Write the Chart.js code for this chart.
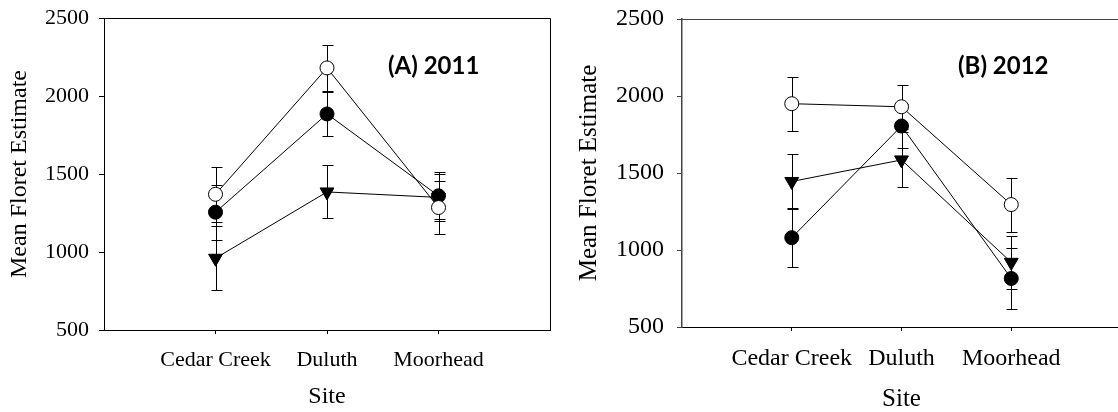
<!DOCTYPE html>
<html>
<head>
<meta charset="utf-8">
<script src="https://cdn.jsdelivr.net/npm/chart.js@4.4.1/dist/chart.umd.min.js"></script>
<style>
  html, body { margin: 0; padding: 0; background: #fff; overflow: hidden; }
  .panel { position: absolute; top: 0; height: 412px; }
  #panelA { left: 0; width: 560px; }
  #panelB { left: 560px; width: 570px; }
</style>
</head>
<body>
<div class="panel" id="panelA"><canvas id="chartA"></canvas></div>
<div class="panel" id="panelB"><canvas id="chartB"></canvas></div>
<script>
/* ---------- DATA ---------- */
const SITES = ["Cedar Creek", "Duluth", "Moorhead"];
const Y_TICKS = [500, 1000, 1500, 2000, 2500];

// (A) 2011
const open2011 = [1370, 2180, 1285];
const openErr2011 = [175, 145, 170];
const filled2011 = [1255, 1885, 1360];
const filledErr2011 = [175, 140, 150];
const tri2011 = [960, 1385, 1350];
const triErr2011 = [205, 170, 150];

// (B) 2012
const open2012 = [1950, 1930, 1295];
const openErr2012 = [175, 142, 175];
const filled2012 = [1080, 1805, 815];
const filledErr2012 = [190, 140, 200];
const tri2012 = [1445, 1585, 920];
const triErr2012 = [180, 178, 170];

const SERIF = "'Liberation Serif', 'Times New Roman', serif";

/* ---------- PLUGINS ---------- */
const errorBars = {
  id: "errorBars",
  beforeDatasetsDraw(chart) {
    const { ctx, scales: { x, y } } = chart;
    ctx.save();
    ctx.strokeStyle = "#000";
    ctx.lineWidth = 1;
    chart.data.datasets.forEach(ds => {
      ds.data.forEach((p, i) => {
        const e = ds.errors[i];
        const px = Math.round(x.getPixelForValue(p.x)) + 0.5;
        const top = Math.round(y.getPixelForValue(p.y + e)) + 0.5;
        const bot = Math.round(y.getPixelForValue(p.y - e)) + 0.5;
        ctx.beginPath();
        ctx.moveTo(px, top); ctx.lineTo(px, bot);
        ctx.moveTo(px - 5, top); ctx.lineTo(px + 6, top);
        ctx.moveTo(px - 5, bot); ctx.lineTo(px + 6, bot);
        ctx.stroke();
      });
    });
    ctx.restore();
  }
};

const frame = {
  id: "frame",
  beforeDatasetsDraw(chart, args, opts) {
    const { ctx, chartArea: a } = chart;
    ctx.save();
    ctx.strokeStyle = opts.color;
    ctx.lineWidth = 1;
    ctx.beginPath();
    ctx.moveTo(a.left, a.top + 0.5);
    ctx.lineTo(a.right + 0.5, a.top + 0.5);
    ctx.lineTo(a.right + 0.5, a.bottom);
    ctx.stroke();
    ctx.restore();
  }
};

const panelLabel = {
  id: "panelLabel",
  afterDatasetsDraw(chart, args, opts) {
    const ctx = chart.ctx;
    ctx.save();
    ctx.font = "bold 24px Lato";
    ctx.fillStyle = "#000";
    ctx.textBaseline = "middle";
    ctx.fillText(opts.text, opts.x, opts.y);
    ctx.restore();
  }
};

/* ---------- BUILD ---------- */
function series(values, errors, style) {
  return Object.assign({
    data: values.map((v, i) => ({ x: i + 1, y: v })),
    errors: errors,
    borderColor: "#000",
    borderWidth: 1,
    pointBorderColor: "#000",
    pointBorderWidth: 1,
    tension: 0
  }, style);
}

function makePanel(id, p) {
  return new Chart(document.getElementById(id), {
    type: "line",
    data: {
      datasets: [
        series(p.open, p.openErr, { label: "open", pointStyle: "circle", pointRadius: 7, pointBackgroundColor: "#fff" }),
        series(p.filled, p.filledErr, { label: "filled", pointStyle: "circle", pointRadius: 7, pointBackgroundColor: "#000" }),
        series(p.tri, p.triErr, { label: "triangle", pointStyle: "triangle", pointRotation: 180, pointRadius: 8, pointBackgroundColor: "#000" })
      ]
    },
    options: {
      responsive: true,
      maintainAspectRatio: false,
      animation: false,
      layout: { padding: { top: p.padTop, right: p.padRight, left: 0, bottom: 0 } },
      plugins: {
        legend: { display: false },
        tooltip: { enabled: false },
        frame: { color: p.frameColor },
        panelLabel: { text: p.label, x: p.labelX, y: p.labelY }
      },
      scales: {
        x: {
          type: "linear",
          min: 0,
          max: 4,
          afterBuildTicks: a => { a.ticks = SITES.map((s, i) => ({ value: i + 1 })); },
          afterFit: a => { a.height = p.xHeight; a.paddingLeft = 0; a.paddingRight = 0; },
          grid: { drawOnChartArea: false, tickLength: 4, color: "#000" },
          border: { color: "#000" },
          ticks: {
            callback: v => SITES[v - 1],
            autoSkip: false, maxRotation: 0,
            color: "#000", padding: p.xTickPad,
            font: { family: SERIF, size: p.tickSize }
          },
          title: {
            display: true, text: "Site", color: "#000",
            font: { family: SERIF, size: p.titleSize, lineHeight: 1 },
            padding: { top: 0, bottom: p.xTitlePad }
          }
        },
        y: {
          min: 500,
          max: 2500,
          afterBuildTicks: a => { a.ticks = Y_TICKS.map(v => ({ value: v })); },
          afterFit: a => { a.width = p.yWidth; a.paddingTop = 0; a.paddingBottom = 0; },
          grid: { drawOnChartArea: false, tickLength: 5, color: p.frameColor },
          border: { color: p.frameColor, width: p.yBorder },
          ticks: {
            callback: v => String(v),
            color: "#000", padding: p.yTickPad,
            font: { family: SERIF, size: p.tickSize }
          },
          title: {
            display: true, text: "Mean Floret Estimate", color: "#000",
            font: { family: SERIF, size: p.titleSize, lineHeight: 1 },
            padding: { top: p.yTitlePad, bottom: 0 }
          }
        }
      }
    },
    plugins: [errorBars, frame, panelLabel]
  });
}

makePanel("chartA", {
  open: open2011, openErr: openErr2011,
  filled: filled2011, filledErr: filledErr2011,
  tri: tri2011, triErr: triErr2011,
  label: "(A) 2011", labelX: 388, labelY: 66,
  padTop: 18, padRight: 10, xHeight: 82, yWidth: 104,
  tickSize: 22, titleSize: 24, xTickPad: 13, yTickPad: 10,
  xTitlePad: 3, yTitlePad: 8, frameColor: "#000", yBorder: 1
});

makePanel("chartB", {
  open: open2012, openErr: openErr2012,
  filled: filled2012, filledErr: filledErr2012,
  tri: tri2012, triErr: triErr2012,
  label: "(B) 2012", labelX: 398, labelY: 66,
  padTop: 19, padRight: 8, xHeight: 85, yWidth: 122,
  tickSize: 24, titleSize: 25, xTickPad: 13, yTickPad: 13,
  xTitlePad: 0, yTitlePad: 17, frameColor: "#444", yBorder: 1.5
});
</script>
</body>
</html>
